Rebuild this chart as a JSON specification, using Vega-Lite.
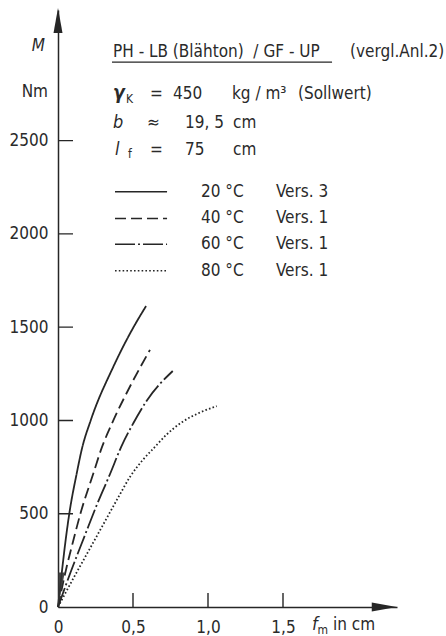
{
  "$schema": "https://vega.github.io/schema/vega-lite/v6.json",
  "width": 339,
  "height": 597,
  "autosize": "none",
  "padding": {"left": 58, "top": 10, "right": 49, "bottom": 29},
  "background": "white",
  "config": {
    "view": {"stroke": null},
    "font": "DejaVu Sans Condensed, sans-serif",
    "text": {"color": "#2a2a2a", "font": "DejaVu Sans Condensed, sans-serif"},
    "axis": {"labelFont": "DejaVu Sans Condensed, sans-serif"}
  },
  "datasets": {
    "curves": [
      {"s": "20", "x": 0, "y": 0},
      {"s": "20", "x": 0.025, "y": 182},
      {"s": "20", "x": 0.051, "y": 359},
      {"s": "20", "x": 0.075, "y": 499},
      {"s": "20", "x": 0.125, "y": 717},
      {"s": "20", "x": 0.16, "y": 850},
      {"s": "20", "x": 0.218, "y": 1000},
      {"s": "20", "x": 0.369, "y": 1288},
      {"s": "20", "x": 0.505, "y": 1502},
      {"s": "20", "x": 0.587, "y": 1613},
      {"s": "40", "x": 0, "y": 0},
      {"s": "40", "x": 0.058, "y": 216},
      {"s": "40", "x": 0.1, "y": 350},
      {"s": "40", "x": 0.149, "y": 499},
      {"s": "40", "x": 0.236, "y": 717},
      {"s": "40", "x": 0.29, "y": 850},
      {"s": "40", "x": 0.369, "y": 1000},
      {"s": "40", "x": 0.491, "y": 1199},
      {"s": "40", "x": 0.613, "y": 1378},
      {"s": "60", "x": 0, "y": 0},
      {"s": "60", "x": 0.082, "y": 182},
      {"s": "60", "x": 0.182, "y": 390},
      {"s": "60", "x": 0.25, "y": 530},
      {"s": "60", "x": 0.349, "y": 717},
      {"s": "60", "x": 0.422, "y": 860},
      {"s": "60", "x": 0.502, "y": 985},
      {"s": "60", "x": 0.595, "y": 1110},
      {"s": "60", "x": 0.765, "y": 1265},
      {"s": "80", "x": 0, "y": 0},
      {"s": "80", "x": 0.1, "y": 150},
      {"s": "80", "x": 0.2, "y": 295},
      {"s": "80", "x": 0.3, "y": 440},
      {"s": "80", "x": 0.4, "y": 585},
      {"s": "80", "x": 0.482, "y": 700},
      {"s": "80", "x": 0.567, "y": 790},
      {"s": "80", "x": 0.647, "y": 859},
      {"s": "80", "x": 0.725, "y": 925},
      {"s": "80", "x": 0.825, "y": 990},
      {"s": "80", "x": 0.94, "y": 1040},
      {"s": "80", "x": 1.058, "y": 1077}
    ],
    "wedge": [
      {"y": 0, "x": 0},
      {"y": 185, "x": 0.045}
    ],
    "marks_y": [
      {"y": 500, "x": 0, "x2": 0.1},
      {"y": 1000, "x": 0, "x2": 0.1},
      {"y": 1500, "x": 0, "x2": 0.1},
      {"y": 2000, "x": 0, "x2": 0.1},
      {"y": 2500, "x": 0, "x2": 0.1}
    ],
    "marks_x": [
      {"x": 0.5, "y": 0, "y2": 75},
      {"x": 1.0, "y": 0, "y2": 75},
      {"x": 1.5, "y": 0, "y2": 75}
    ],
    "legend": [
      {"s": "20", "x": 0.38, "x2": 0.727, "y": 2226, "xa": 0.953, "ta": "20 °C", "xb": 1.453, "tb": "Vers. 3"},
      {"s": "40", "x": 0.38, "x2": 0.727, "y": 2083, "xa": 0.953, "ta": "40 °C", "xb": 1.453, "tb": "Vers. 1"},
      {"s": "60", "x": 0.38, "x2": 0.727, "y": 1944, "xa": 0.953, "ta": "60 °C", "xb": 1.453, "tb": "Vers. 1"},
      {"s": "80", "x": 0.38, "x2": 0.727, "y": 1803, "xa": 0.953, "ta": "80 °C", "xb": 1.453, "tb": "Vers. 1"}
    ],
    "normal": [
      {"x": 0.367, "y": 2948, "t": "PH - LB (Blähton)\u00a0\u00a0/ GF - UP"},
      {"x": 1.947, "y": 2948, "t": "(vergl.Anl.2)"},
      {"x": 0.613, "y": 2723, "t": "="},
      {"x": 0.767, "y": 2723, "t": "450"},
      {"x": 1.16, "y": 2723, "t": "kg / m³"},
      {"x": 1.6, "y": 2723, "t": "(Sollwert)"},
      {"x": 0.593, "y": 2568, "t": "≈"},
      {"x": 0.847, "y": 2568, "t": "19, 5"},
      {"x": 1.167, "y": 2568, "t": "cm"},
      {"x": 0.613, "y": 2423, "t": "="},
      {"x": 0.847, "y": 2423, "t": "75"},
      {"x": 1.167, "y": 2423, "t": "cm"},
      {"x": 1.833, "y": -123, "t": "in cm"}
    ],
    "italic": [
      {"x": 0.367, "y": 2568, "t": "b"},
      {"x": 0.38, "y": 2423, "t": "l"},
      {"x": 1.693, "y": -123, "t": "f"}
    ],
    "bolditalic": [
      {"x": 0.367, "y": 2723, "t": "γ"}
    ],
    "sub": [
      {"x": 0.453, "y": 2701, "t": "K"},
      {"x": 0.467, "y": 2407, "t": "f"},
      {"x": 1.73, "y": -143, "t": "m"}
    ],
    "underline": [
      {"x": 0.36, "x2": 1.827, "y": 2921}
    ],
    "yunit": [
      {"x": 0, "y": 2980, "t": "M", "st": "italic"},
      {"x": 0, "y": 2734, "t": "Nm", "st": "normal"}
    ],
    "arrowup": [{"x": 0, "y": 3144}],
    "arrowright": [{"x": 2.175, "y": 0}]
  },
  "layer": [
    {
      "data": {"name": "curves"},
      "mark": {"type": "line", "interpolate": "monotone", "color": "#262626", "strokeWidth": 1.8},
      "encoding": {
        "x": {
          "field": "x", "type": "quantitative",
          "scale": {"domain": [0, 2.26], "nice": false, "zero": false},
          "axis": {
            "title": null, "grid": false, "values": [0, 0.5, 1, 1.5],
            "labelExpr": "datum.value == 0 ? '0' : replace(format(datum.value, '.1f'), '.', ',')",
            "ticks": false,
            "domainColor": "#262626", "domainWidth": 1.5,
            "labelFontSize": 17, "labelColor": "#2a2a2a", "labelPadding": 12,
            "labelFlush": false, "labelOverlap": false
          }
        },
        "y": {
          "field": "y", "type": "quantitative",
          "scale": {"domain": [0, 3200], "nice": false, "zero": false},
          "axis": {
            "title": null, "grid": false, "values": [0, 500, 1000, 1500, 2000, 2500],
            "format": "d", "ticks": false,
            "domainColor": "#262626", "domainWidth": 1.5,
            "labelFontSize": 17, "labelColor": "#2a2a2a", "labelPadding": 10,
            "labelFlush": false, "labelOverlap": false
          }
        },
        "strokeDash": {
          "field": "s", "type": "nominal",
          "scale": {
            "domain": ["20", "40", "60", "80"],
            "range": [[1, 0], [11, 5], [20, 3, 2, 3], [1.6, 2.2]]
          },
          "legend": null
        }
      }
    },
    {
      "data": {"name": "marks_y"},
      "mark": {"type": "rule", "color": "#262626", "strokeWidth": 1.4, "strokeDash": [1, 0]},
      "encoding": {
        "x": {"field": "x", "type": "quantitative"},
        "x2": {"field": "x2"},
        "y": {"field": "y", "type": "quantitative"}
      }
    },
    {
      "data": {"name": "marks_x"},
      "mark": {"type": "rule", "color": "#262626", "strokeWidth": 1.4, "strokeDash": [1, 0]},
      "encoding": {
        "x": {"field": "x", "type": "quantitative"},
        "y": {"field": "y", "type": "quantitative"},
        "y2": {"field": "y2"}
      }
    },
    {
      "data": {"name": "wedge"},
      "mark": {"type": "area", "orient": "horizontal", "color": "#333333", "opacity": 0.9},
      "encoding": {
        "y": {"field": "y", "type": "quantitative"},
        "x": {"field": "x", "type": "quantitative"},
        "x2": {"datum": 0}
      }
    },
    {
      "data": {"name": "legend"},
      "mark": {"type": "rule", "color": "#262626", "strokeWidth": 1.5},
      "encoding": {
        "x": {"field": "x", "type": "quantitative"},
        "x2": {"field": "x2"},
        "y": {"field": "y", "type": "quantitative"},
        "strokeDash": {"field": "s", "type": "nominal", "legend": null}
      }
    },
    {
      "data": {"name": "legend"},
      "mark": {"type": "text", "align": "left", "baseline": "middle", "fontSize": 17},
      "encoding": {
        "x": {"field": "xa", "type": "quantitative"},
        "y": {"field": "y", "type": "quantitative"},
        "text": {"field": "ta"}
      }
    },
    {
      "data": {"name": "legend"},
      "mark": {"type": "text", "align": "left", "baseline": "middle", "fontSize": 17},
      "encoding": {
        "x": {"field": "xb", "type": "quantitative"},
        "y": {"field": "y", "type": "quantitative"},
        "text": {"field": "tb"}
      }
    },
    {
      "data": {"name": "underline"},
      "mark": {"type": "rule", "color": "#262626", "strokeWidth": 1.3},
      "encoding": {
        "x": {"field": "x", "type": "quantitative"},
        "x2": {"field": "x2"},
        "y": {"field": "y", "type": "quantitative"}
      }
    },
    {
      "data": {"name": "normal"},
      "mark": {"type": "text", "align": "left", "baseline": "alphabetic", "fontSize": 17},
      "encoding": {
        "x": {"field": "x", "type": "quantitative"},
        "y": {"field": "y", "type": "quantitative"},
        "text": {"field": "t"}
      }
    },
    {
      "data": {"name": "italic"},
      "mark": {"type": "text", "align": "left", "baseline": "alphabetic", "fontSize": 18, "fontStyle": "italic"},
      "encoding": {
        "x": {"field": "x", "type": "quantitative"},
        "y": {"field": "y", "type": "quantitative"},
        "text": {"field": "t"}
      }
    },
    {
      "data": {"name": "bolditalic"},
      "mark": {"type": "text", "align": "left", "baseline": "alphabetic", "fontSize": 19, "fontStyle": "italic", "fontWeight": "bold"},
      "encoding": {
        "x": {"field": "x", "type": "quantitative"},
        "y": {"field": "y", "type": "quantitative"},
        "text": {"field": "t"}
      }
    },
    {
      "data": {"name": "sub"},
      "mark": {"type": "text", "align": "left", "baseline": "alphabetic", "fontSize": 12},
      "encoding": {
        "x": {"field": "x", "type": "quantitative"},
        "y": {"field": "y", "type": "quantitative"},
        "text": {"field": "t"}
      }
    },
    {
      "data": {"name": "yunit"},
      "transform": [{"filter": "datum.st == 'italic'"}],
      "mark": {"type": "text", "align": "right", "baseline": "alphabetic", "fontSize": 17, "fontStyle": "italic", "dx": -13},
      "encoding": {
        "x": {"field": "x", "type": "quantitative"},
        "y": {"field": "y", "type": "quantitative"},
        "text": {"field": "t"}
      }
    },
    {
      "data": {"name": "yunit"},
      "transform": [{"filter": "datum.st == 'normal'"}],
      "mark": {"type": "text", "align": "right", "baseline": "alphabetic", "fontSize": 17, "dx": -10},
      "encoding": {
        "x": {"field": "x", "type": "quantitative"},
        "y": {"field": "y", "type": "quantitative"},
        "text": {"field": "t"}
      }
    },
    {
      "data": {"name": "arrowup"},
      "mark": {"type": "point", "shape": "M0,-1L0.36,1L-0.36,1Z", "size": 625, "filled": true, "color": "#262626", "opacity": 1},
      "encoding": {
        "x": {"field": "x", "type": "quantitative"},
        "y": {"field": "y", "type": "quantitative"}
      }
    },
    {
      "data": {"name": "arrowright"},
      "mark": {"type": "point", "shape": "M1,0L-1,0.36L-1,-0.36Z", "size": 625, "filled": true, "color": "#262626", "opacity": 1},
      "encoding": {
        "x": {"field": "x", "type": "quantitative"},
        "y": {"field": "y", "type": "quantitative"}
      }
    }
  ]
}
